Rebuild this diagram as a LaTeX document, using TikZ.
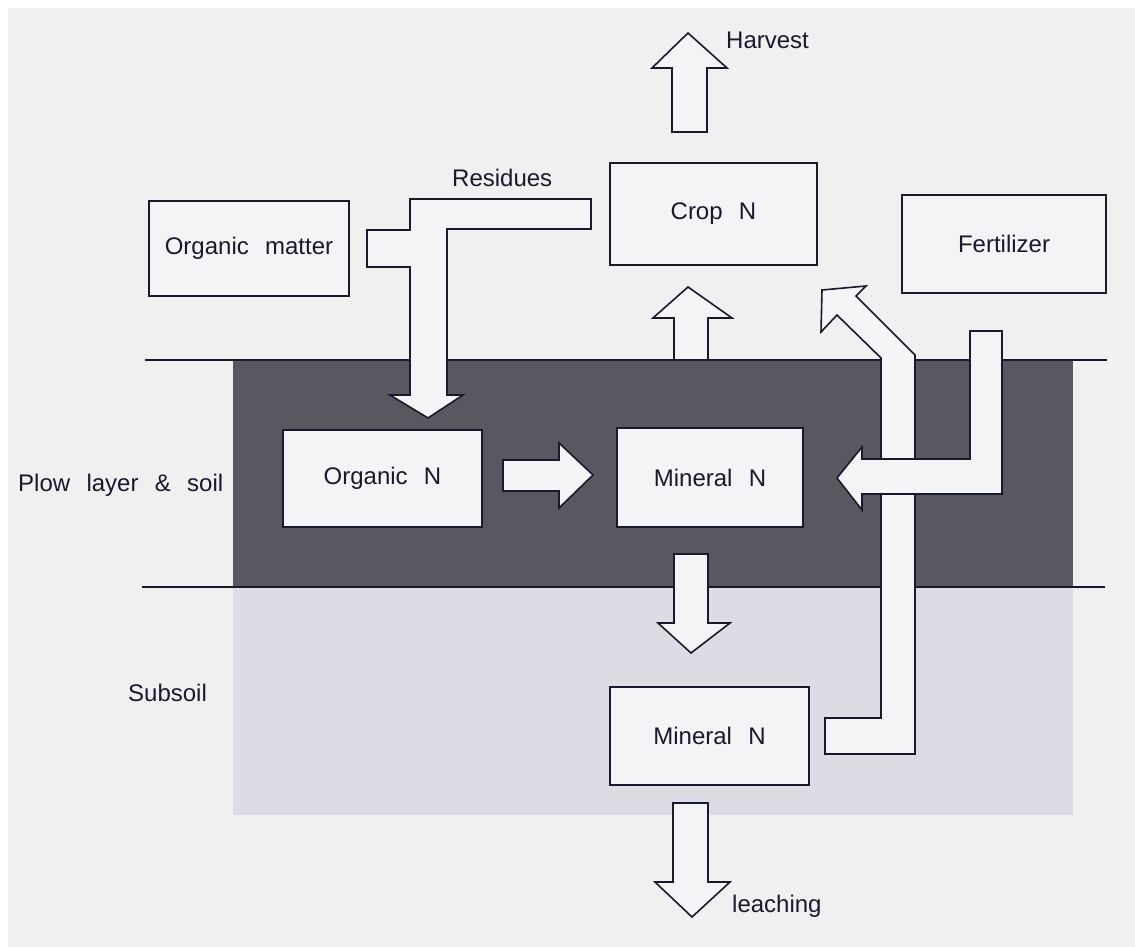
\documentclass[tikz,border=0pt]{standalone}
\usepackage{fontspec}
\setmainfont{Liberation Sans}
\definecolor{bgcol}{RGB}{240,240,241}
\definecolor{darkcol}{RGB}{88,88,96}
\definecolor{subcol}{RGB}{220,220,229}
\definecolor{boxcol}{RGB}{244,244,247}
\definecolor{inkcol}{RGB}{25,25,45}
\newcommand{\wg}{\hspace{0.68em}}
\begin{document}
\begin{tikzpicture}[x=1pt,y=-1pt,
  every node/.style={font=\fontsize{24}{28}\selectfont, text=inkcol},
  nbox/.style={draw=inkcol, fill=boxcol, line width=1.6pt, inner sep=0pt, outer sep=0pt},
  blockarrow/.style={draw=inkcol, fill=boxcol, line width=1.6pt, line join=miter},
  layerline/.style={draw=inkcol, line width=1.6pt}]
\useasboundingbox (0,0) rectangle (1135,947);
\fill[white] (0,0) rectangle (1135,947);
\fill[bgcol] (8,8) rectangle (1135,947);
% soil layers
\fill[darkcol] (233,360) rectangle (1073,587);
\fill[subcol] (233,587) rectangle (1073,815);
\draw[layerline] (145,360) -- (1107,360);
\draw[layerline] (142,587) -- (1105,587);
% boxes
\node[nbox, minimum width=200pt, minimum height=95pt] (om) at (249,248.5) {Organic\wg matter};
\node[nbox, minimum width=207pt, minimum height=102pt] (crop) at (713.5,214) {Crop\wg N};
\node[nbox, minimum width=204pt, minimum height=98pt] (fert) at (1004,244) {Fertilizer};
\node[nbox, minimum width=199pt, minimum height=97pt] (orgn) at (382.5,478.5) {Organic\wg N};
\node[nbox, minimum width=186pt, minimum height=99pt] (minn) at (710,477.5) {Mineral\wg N};
\node[nbox, minimum width=199pt, minimum height=98pt] (subn) at (709.5,736) {Mineral\wg N};
% labels
\node[anchor=west, inner sep=0pt] (plow) at (18,485) {Plow\wg layer\wg \&\wg soil};
\node[anchor=west, inner sep=0pt] (subsoil) at (128,693) {Subsoil};
\node[anchor=west, inner sep=0pt] (harvest) at (726,40) {Harvest};
\node[anchor=west, inner sep=0pt] (residues) at (452,178) {Residues};
\node[anchor=west, inner sep=0pt] (leaching) at (732,906) {leaching};
% block arrows
\draw[blockarrow] (672,132) -- (672,68) -- (652,68) -- (688,33) -- (727,68) -- (707,68) -- (707,132) -- cycle;
\draw[blockarrow] (674,360) -- (674,318) -- (653,318) -- (688,287) -- (732,318) -- (708,318) -- (708,360) -- cycle;
\draw[blockarrow] (591,199) -- (591,229) -- (447,229) -- (447,395) -- (463,395) -- (428,418) -- (390,395) -- (410,395) -- (410,267) -- (367,267) -- (367,230) -- (410,230) -- (410,199) -- cycle;
\draw[blockarrow] (503,460) -- (559,460) -- (559,443) -- (593,475) -- (559,508) -- (559,491) -- (503,491) -- cycle;
\draw[blockarrow] (674,554) -- (674,623) -- (658,623) -- (691,653) -- (730,623) -- (708,623) -- (708,554) -- cycle;
\draw[blockarrow] (673,803) -- (673,882) -- (655,882) -- (692,917) -- (730,882) -- (708,882) -- (708,803) -- cycle;
\draw[blockarrow] (825,754) -- (825,718) -- (881,718) -- (881,358) -- (837,315) -- (821,332) -- (822,290) -- (866,286) -- (856,296) -- (915,355) -- (915,754) -- cycle;
\draw[blockarrow] (1002,331) -- (1002,494) -- (862,494) -- (862,510) -- (837,478) -- (862,447) -- (862,459) -- (970,459) -- (970,331) -- cycle;
\end{tikzpicture}
\end{document}
